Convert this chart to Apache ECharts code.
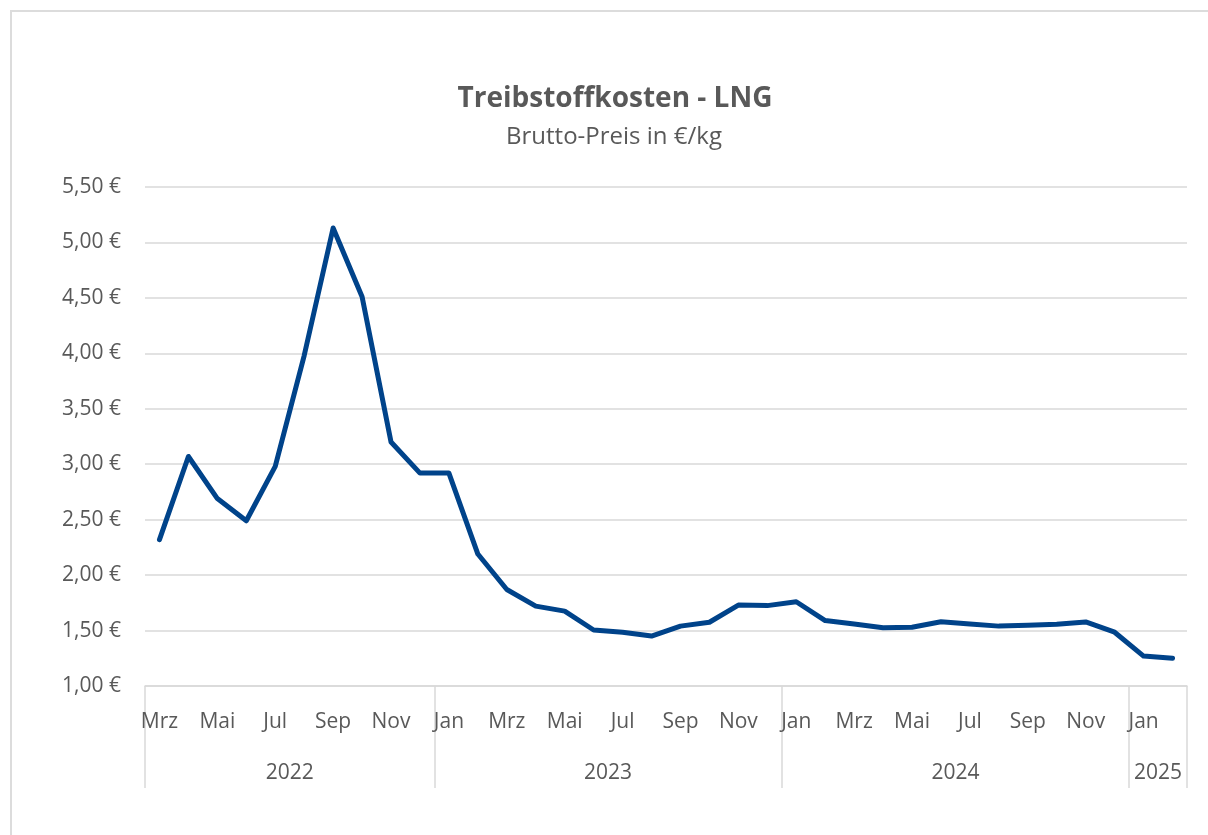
<!DOCTYPE html>
<html>
<head>
<meta charset="utf-8">
<title>Treibstoffkosten - LNG</title>
<script src="https://cdn.jsdelivr.net/npm/echarts@6/dist/echarts.min.js"></script>
<style>
  html, body { margin: 0; padding: 0; background: #fff; }
  .frame { position: absolute; left: 10px; top: 10px; width: 1400px; height: 1000px; border: 2px solid #dcdcdc; box-sizing: border-box; }
  #chart { position: absolute; left: 0; top: 0; width: 1208px; height: 835px; }
</style>
</head>
<body>
<div class="frame"></div>
<div id="chart"></div>
<script>
// Monate Mrz 2022 - Feb 2025
var months = ['Mrz','Apr','Mai','Jun','Jul','Aug','Sep','Okt','Nov','Dez',
  'Jan','Feb','Mrz','Apr','Mai','Jun','Jul','Aug','Sep','Okt','Nov','Dez',
  'Jan','Feb','Mrz','Apr','Mai','Jun','Jul','Aug','Sep','Okt','Nov','Dez',
  'Jan','Feb'];
var years = ['2022', '2023', '2024', '2025'];
var yearCounts = [10, 12, 12, 2];
// Brutto-Preis in €/kg
var prices = [2.32, 3.07, 2.69, 2.49, 2.98, 3.98, 5.13, 4.51, 3.20, 2.92,
  2.92, 2.19, 1.87, 1.72, 1.675, 1.505, 1.485, 1.45, 1.54, 1.575, 1.73, 1.725,
  1.76, 1.59, 1.56, 1.525, 1.53, 1.58, 1.56, 1.54, 1.548, 1.557, 1.578, 1.485,
  1.27, 1.25];
var yTicks = { min: 1, max: 5.5, step: 0.5 };

var font = '"Open Sans", "Noto Sans", sans-serif';
var grey = '#595959';

// Jahresgrenzen (Index der ersten Kategorie je Jahr) und Jahresmitten
var bounds = [];
var yearCenters = {};
var start = 0;
for (var i = 0; i < years.length; i++) {
  bounds.push(start);
  yearCenters[(start + (start + yearCounts[i]) - 1) / 2] = years[i];
  start += yearCounts[i];
}

var myChart = echarts.init(document.getElementById('chart'));
var option = {
  animation: false,
  title: [
    {
      text: 'Treibstoffkosten - LNG',
      left: 610, top: 80, textAlign: 'center',
      textStyle: { fontFamily: font, fontSize: 28, fontWeight: 'bold', color: grey }
    },
    {
      text: 'Brutto-Preis in €/kg',
      left: 609, top: 120, textAlign: 'center',
      textStyle: { fontFamily: font, fontSize: 24, fontWeight: 'normal', color: grey }
    }
  ],
  grid: { left: 145, right: 21, top: 187, bottom: 149, containLabel: false },
  xAxis: [
    {
      type: 'category',
      data: months,
      boundaryGap: true,
      axisLine: { show: true, lineStyle: { color: '#d9d9d9', width: 1.5 } },
      axisTick: {
        show: true,
        length: 102,
        interval: function (index) { return bounds.indexOf(index) >= 0; },
        lineStyle: { color: '#d9d9d9', width: 1.5 }
      },
      axisLabel: {
        interval: 1,
        margin: 26,
        fontFamily: font, fontSize: 21, color: grey
      },
      splitLine: { show: false }
    },
    {
      type: 'value',
      position: 'bottom',
      min: -0.5,
      max: months.length - 0.5,
      interval: 0.5,
      axisLine: { show: false },
      axisTick: { show: false },
      splitLine: { show: false },
      axisLabel: {
        margin: 77,
        fontFamily: font, fontSize: 21, color: grey,
        showMinLabel: false, showMaxLabel: false,
        formatter: function (v) { return yearCenters[v] || ''; }
      }
    }
  ],
  yAxis: {
    type: 'value',
    min: yTicks.min,
    max: yTicks.max,
    interval: yTicks.step,
    axisLine: { show: false },
    axisTick: { show: false },
    splitLine: { lineStyle: { color: '#d9d9d9', width: 1.5 } },
    axisLabel: {
      margin: 24,
      fontFamily: font, fontSize: 21, color: grey,
      formatter: function (v) { return v.toFixed(2).replace('.', ',') + ' €'; }
    }
  },
  series: [
    {
      name: 'LNG',
      type: 'line',
      xAxisIndex: 0,
      data: prices,
      showSymbol: false,
      symbol: 'none',
      lineStyle: { color: '#00438a', width: 5, join: 'round', cap: 'round' }
    }
  ]
};
myChart.setOption(option);
</script>
</body>
</html>
